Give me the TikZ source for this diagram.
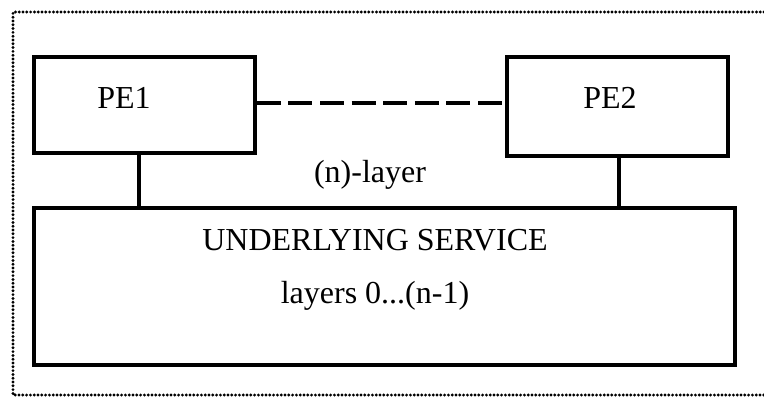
\documentclass[tikz,border=0pt]{standalone}
\usepackage{fontspec}
\setmainfont{Liberation Serif}
\usepackage{tikz}

\tikzset{
    entity/.style={draw, line width=1.8pt, inner sep=0pt},
    txt/.style={anchor=base, inner sep=0pt, font=\fontsize{16}{19}\selectfont},
    peerline/.style={line width=1.8pt, dash pattern=on 12pt off 3.8pt},
    layerframe/.style={line width=1.6pt, line cap=round, dash pattern=on 0pt off 1.9pt}
}

\begin{document}
\begin{tikzpicture}[x=0.5pt, y=-0.5pt]
            \useasboundingbox (0,0) rectangle (764,397);
            % dotted frame of the (n)-layer, open to the right
            \draw[layerframe] (764,12) -- (13,12) -- (13,395) -- (764,395);

            % protocol entities and the service below them
            \node[entity, minimum width=110.5pt, minimum height=48pt] (pe1) at (144.5,105) {};
            \node[entity, minimum width=110.5pt, minimum height=49.5pt] (pe2) at (617.5,106.5) {};
            \node[entity, minimum width=350.5pt, minimum height=78.5pt] (under) at (384.5,286.5) {};

            \node[txt] (pe1txt) at (124,108) {PE1};
            \node[txt] (pe2txt) at (610,108) {PE2};
            \node[txt] (layer) at (370,182) {(n)-layer};
            \node[txt] (svc) at (375,250) {UNDERLYING SERVICE};
            \node[txt] (lays) at (375,303) {layers 0...(n-1)};

            % peer relation and attachment to the service
            \draw[peerline] (pe1.east |- 0,103) -- (pe2.west |- 0,103);
            \draw[line width=1.8pt] ([xshift=-2.75pt]pe1.south) -- ([xshift=-2.75pt]pe1.south |- under.north);
            \draw[line width=1.8pt] ([xshift=0.75pt]pe2.south) -- ([xshift=0.75pt]pe2.south |- under.north);
        \end{tikzpicture}
\end{document}
